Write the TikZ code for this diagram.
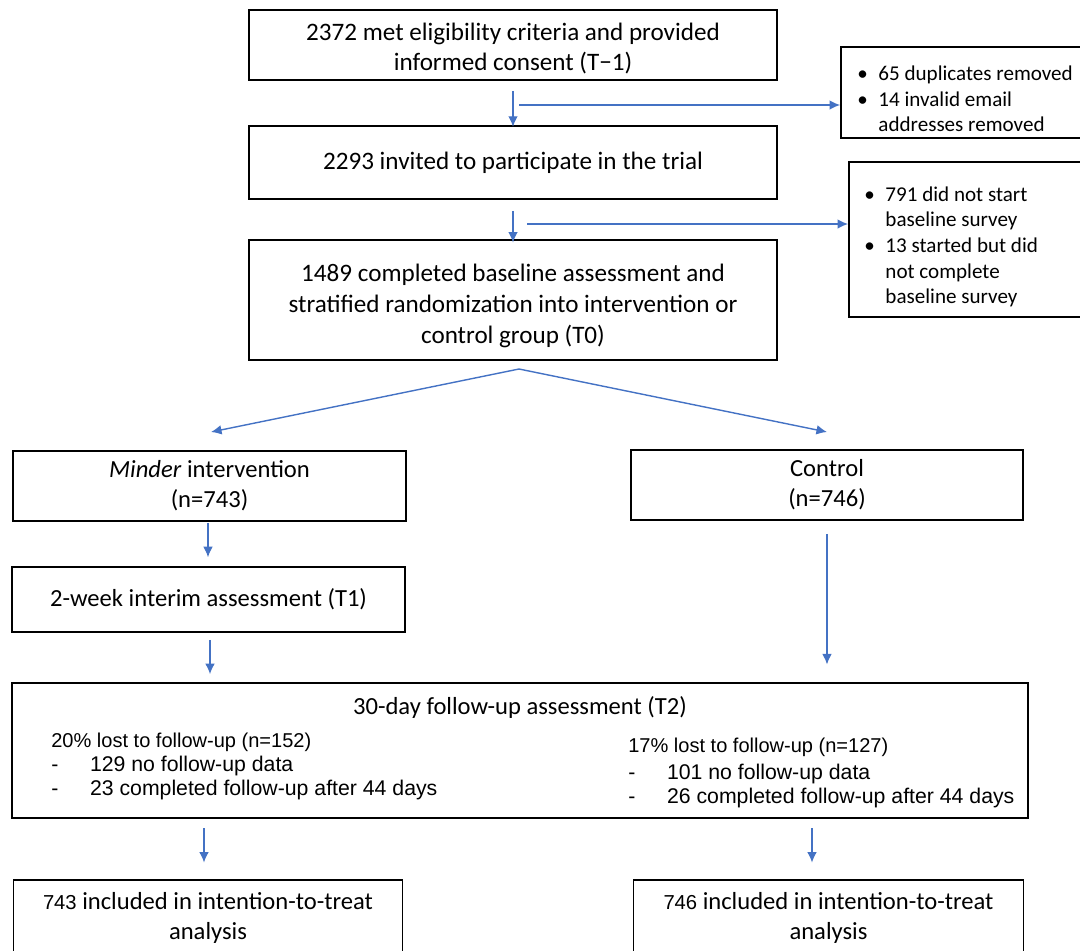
\documentclass[tikz,border=0pt]{standalone}
\usepackage{fontspec}
\setmainfont{Carlito}
\newfontfamily\arialf{Liberation Sans}
\usetikzlibrary{arrows.meta}
\definecolor{arrowblue}{HTML}{4472C4}
\tikzset{
  box/.style={draw=black, line width=1.1pt, align=center, inner sep=0pt, font=\fontsize{14}{17}\selectfont},
  mainbox/.style={box, font=\fontsize{14.3}{17.5}\selectfont},
  maintext/.style={align=center, inner sep=0pt, font=\fontsize{14.3}{17.5}\selectfont},
  thinbox/.style={box, line width=0.6pt},
  arr/.style={draw=arrowblue, line width=0.8pt, -{Latex[length=6pt,width=5.5pt]}},
  sidetext/.style={anchor=west, align=left, inner sep=0pt, font=\fontsize{12}{14.6}\selectfont},
  listtext/.style={anchor=west, align=left, inner sep=0pt, font=\arialf\fontsize{12.1}{13.6}\selectfont},
  listhead/.style={anchor=west, inner sep=0pt, font=\arialf\fontsize{11.4}{13}\selectfont},
  titletext/.style={inner sep=0pt, font=\fontsize{14}{17}\selectfont},
}
\newcommand{\bul}{\makebox[12pt][l]{\textbullet}}
\newcommand{\dsh}{\makebox[22pt][l]{-}}
\begin{document}
\begin{tikzpicture}[x=0.02cm,y=-0.02cm]
\useasboundingbox (0,0) rectangle (1080,951);
\clip (0,0) rectangle (1080,951);

% main column
\node[mainbox, minimum width=10.56cm, minimum height=1.4cm] (A) at (513,45) {};
\node[maintext] (At) at (513,48.5)
  {2372 met eligibility criteria and provided\\informed consent (T−1)};
\node[mainbox, minimum width=10.56cm, minimum height=1.46cm] (B) at (513,162.5)
  {2293 invited to participate in the trial};
\node[mainbox, minimum width=10.56cm, minimum height=2.4cm] (C) at (513,300) {};
\node[maintext] (Ct) at (513,306)
  {1489 completed baseline assessment and\\stratified randomization into intervention or\\control group (T0)};

% exclusion boxes
\node[box, minimum width=4.88cm, minimum height=1.82cm] (R1) at (963,92.5) {};
\node[sidetext] (R1t) at (857,99)
  {\bul 65 duplicates removed\\\bul 14 invalid email\\\hspace*{12pt}addresses removed};
\node[box, minimum width=4.72cm, minimum height=3.1cm] (R2) at (967,239.5) {};
\node[sidetext] (R2t) at (864,247)
  {\bul 791 did not start\\\hspace*{12pt}baseline survey\\\bul 13 started but did\\\hspace*{12pt}not complete\\\hspace*{12pt}baseline survey};

% arms
\node[box, minimum width=7.86cm, minimum height=1.4cm] (D) at (209.5,486)
  {\textit{Minder} intervention\\(n=743)};
\node[box, minimum width=7.84cm, minimum height=1.4cm] (E) at (827,485)
  {Control\\(n=746)};
\node[box, minimum width=7.86cm, minimum height=1.3cm] (F) at (208.5,599.5)
  {2-week interim assessment (T1)};

% follow-up box
\node[box, minimum width=20.32cm, minimum height=2.7cm] (G) at (520,750.5) {};
\node[titletext] (Gt) at (520,707) {30-day follow-up assessment (T2)};
\node[listhead] (GL0) at (51,742) {20\% lost to follow-up (n=152)};
\node[listtext] (GL) at (51,778) {\dsh 129 no follow-up data\\\dsh 23 completed follow-up after 44 days};
\node[listhead] (GR0) at (628,747) {17\% lost to follow-up (n=127)};
\node[listtext] (GR) at (628,786) {\dsh 101 no follow-up data\\\dsh 26 completed follow-up after 44 days};

% ITT boxes
\node[thinbox, minimum width=7.8cm, minimum height=1.52cm] (H) at (208,918)
  {{\arialf\fontsize{11.5}{14}\selectfont 743} included in intention-to-treat\\analysis};
\node[thinbox, minimum width=7.82cm, minimum height=1.52cm] (I) at (828.5,918)
  {{\arialf\fontsize{11.5}{14}\selectfont 746} included in intention-to-treat\\analysis};

% connectors
\draw[arr, shorten <=5.7pt, shorten >=-1pt] (A.south) -- (B.north);
\coordinate (s1) at (519,105);
\draw[arr] (s1) -- (s1 -| R1.west);
\draw[arr, shorten <=6.2pt, shorten >=-2pt] (B.south) -- (B.south |- C.north);
\coordinate (s2) at (527,224);
\draw[arr] (s2) -- (s2 -| R2.west);
\coordinate (c0) at (519,369);
\coordinate (dL) at (211,432);
\coordinate (dR) at (827,432);
\draw[arr] (c0) -- (dL);
\draw[arr] (c0) -- (dR);
\coordinate (d0) at (208,521);
\draw[arr, shorten <=1pt, shorten >=5pt] (d0) -- (d0 |- F.north);
\draw[arr, shorten <=7.4pt, shorten >=10pt] (E.south) -- (E.south |- G.north);
\coordinate (f0) at (210,632);
\draw[arr, shorten <=4.5pt, shorten >=4.5pt] (f0) -- (f0 |- G.north);
\coordinate (g0) at (204,818);
\draw[arr, shorten <=5.7pt, shorten >=9.6pt] (g0) -- (g0 |- H.north);
\coordinate (g1) at (812,818);
\draw[arr, shorten <=5.7pt, shorten >=9.6pt] (g1) -- (g1 |- I.north);
\end{tikzpicture}
\end{document}
